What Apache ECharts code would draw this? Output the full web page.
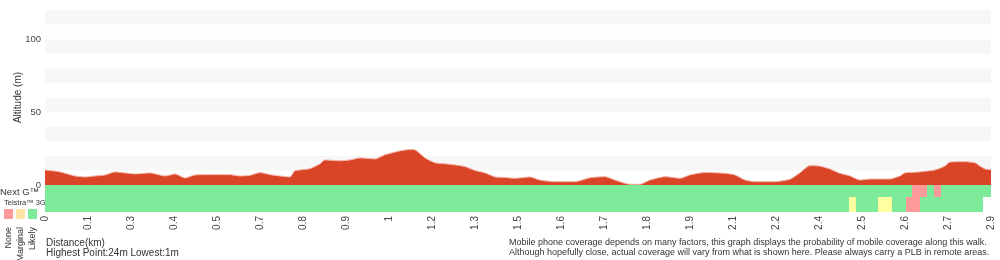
<!DOCTYPE html>
<html><head><meta charset="utf-8">
<script src="https://cdn.jsdelivr.net/npm/echarts@6/dist/echarts.min.js"></script>
<style>html,body{margin:0;padding:0;background:#fff}#c{width:1000px;height:260px}</style>
</head><body><div id="c"></div>
<script>
// Elevation profile (distance in km, altitude in m)
const distanceKm = [0, 0.046, 0.092, 0.123, 0.153, 0.184, 0.215, 0.245, 0.276, 0.322, 0.368, 0.399, 0.429, 0.460, 0.506, 0.567, 0.598, 0.628, 0.659, 0.690, 0.720, 0.751, 0.766, 0.812, 0.843, 0.858, 0.904, 0.935, 0.966, 1.012, 1.042, 1.088, 1.119, 1.134, 1.165, 1.196, 1.226, 1.257, 1.288, 1.318, 1.349, 1.380, 1.410, 1.441, 1.487, 1.517, 1.563, 1.625, 1.671, 1.717, 1.747, 1.793, 1.824, 1.855, 1.901, 1.947, 1.977, 2.024, 2.085, 2.115, 2.146, 2.177, 2.238, 2.284, 2.314, 2.345, 2.376, 2.406, 2.437, 2.468, 2.498, 2.529, 2.590, 2.621, 2.636, 2.682, 2.728, 2.759, 2.774, 2.820, 2.851, 2.866, 2.882, 2.900];
const altitudeM  = [10.3, 9.0, 6.2, 5.5, 6.2, 6.9, 9.0, 8.3, 7.6, 8.3, 6.2, 7.6, 4.8, 6.9, 7.1, 7.1, 6.2, 6.6, 8.5, 7.1, 6.2, 5.5, 9.7, 11.2, 14.5, 17.2, 16.6, 17.2, 18.6, 17.9, 20.7, 23.4, 24.3, 24.1, 18.6, 15.2, 14.5, 13.8, 12.6, 10.0, 8.3, 5.5, 5.2, 4.6, 5.5, 3.4, 2.3, 2.3, 5.0, 5.7, 3.4, 0.5, 0.5, 3.4, 5.7, 4.6, 6.9, 8.6, 8.0, 6.9, 3.4, 2.3, 2.3, 4.0, 8.3, 13.3, 12.9, 11.0, 8.0, 6.2, 3.4, 4.1, 4.1, 6.2, 8.3, 9.0, 10.3, 13.0, 15.7, 16.0, 15.2, 13.0, 11.0, 10.5];

const xTickLabels = ['0','0.1','0.3','0.4','0.5','0.7','0.8','0.9','1','1.2','1.3','1.5','1.6','1.7','1.8','1.9','2.1','2.2','2.4','2.5','2.6','2.7','2.9'];
const yTickLabels = [0, 50, 100];
const totalKm = 2.9;

// Coverage segments: [startKm, endKm, level]  level: 0 None, 1 Marginal, 2 Likely
const nextGCoverage = [[0, 2.657, 2], [2.657, 2.703, 0], [2.703, 2.725, 2], [2.725, 2.747, 0], [2.747, 2.9, 2]];
const telstra3GCoverage = [[0, 2.465, 2], [2.465, 2.486, 1], [2.486, 2.554, 2], [2.554, 2.596, 1], [2.596, 2.639, 2], [2.639, 2.682, 0], [2.682, 2.876, 2]];
const coverageLevels = ['None', 'Marginal', 'Likely'];

const levelColors = ['#ff9a9a', '#ffffa0', '#7deb99'];
const legendColors = ['#ff9a9a', '#ffe4a6', '#7deb99'];
const FONT = '"Liberation Sans", Arial, Helvetica, sans-serif';

const elevData = distanceKm.map((d, i) => [d, altitudeM[i]]);
const covData = [];
nextGCoverage.forEach(s => covData.push([s[0], s[1], 0, s[2]]));
telstra3GCoverage.forEach(s => covData.push([s[0], s[1], 1, s[2]]));
const step = totalKm / (xTickLabels.length - 1);

const chart = echarts.init(document.getElementById('c'), null, {renderer: 'canvas'});
const graphics = [
  {type: 'text', left: 0, top: 187, style: {text: 'Next G\u2122', font: '9.5px ' + FONT, fill: '#333'}},
  {type: 'text', left: 4, top: 199, style: {text: 'Telstra\u2122 3G', font: '7.5px ' + FONT, fill: '#333'}}
];
coverageLevels.forEach((name, i) => {
  graphics.push({type: 'rect', shape: {x: 4 + i * 12, y: 209, width: 9, height: 10}, style: {fill: legendColors[i]}});
  graphics.push({type: 'text', x: 8.5 + i * 12, y: 227, rotation: Math.PI / 2,
    style: {text: name, font: '9px ' + FONT, fill: '#333', align: 'right', verticalAlign: 'middle'}});
});
graphics.push({type: 'text', left: 46, top: 238, style: {text: 'Distance(km)', font: '10px ' + FONT, fill: '#333'}});
graphics.push({type: 'text', left: 46, top: 248, style: {text: 'Highest Point:24m Lowest:1m', font: '10px ' + FONT, fill: '#333'}});
graphics.push({type: 'text', left: 509, top: 238, style: {text: 'Mobile phone coverage depends on many factors, this graph displays the probability of mobile coverage along this walk.', font: '9px ' + FONT, fill: '#333'}});
graphics.push({type: 'text', left: 509, top: 248, style: {text: 'Although hopefully close, actual coverage will vary from what is shown here. Please always carry a PLB in remote areas.', font: '9px ' + FONT, fill: '#333'}});

chart.setOption({
  animation: false,
  textStyle: {fontFamily: FONT},
  grid: [
    {left: 45, right: 9, top: 10, height: 175},
    {left: 45, right: 9, top: 185, height: 27}
  ],
  xAxis: [
    {gridIndex: 0, type: 'value', min: 0, max: totalKm, show: false},
    {gridIndex: 1, type: 'value', min: 0, max: totalKm, interval: step,
     axisLine: {show: false}, axisTick: {show: false}, splitLine: {show: false},
     axisLabel: {rotate: 90, margin: 4, fontSize: 10, color: '#444', showMinLabel: true, showMaxLabel: true,
       formatter: v => { const i = Math.round(v / step); return xTickLabels[i] !== undefined ? xTickLabels[i] : ''; }}}
  ],
  yAxis: [
    {gridIndex: 0, type: 'value', min: 0, max: 120, interval: 10,
     name: 'Altitude (m)', nameLocation: 'middle', nameGap: 22, nameMoveOverlap: false,
     nameTextStyle: {fontSize: 10, color: '#333'},
     axisLine: {show: false}, axisTick: {show: false}, splitLine: {show: false},
     splitArea: {show: true, areaStyle: {color: ['#ffffff', '#f7f7f7']}},
     axisLabel: {fontSize: 9.5, color: '#444', margin: 4,
       formatter: v => yTickLabels.indexOf(v) >= 0 ? String(v) : ''}},
    {gridIndex: 1, type: 'value', min: 0, max: 1, show: false}
  ],
  series: [
    {type: 'line', xAxisIndex: 0, yAxisIndex: 0, data: elevData, smooth: 0.2, symbol: 'none',
     lineStyle: {color: '#f2b3a6', width: 1}, areaStyle: {color: '#db4527', opacity: 1}},
    {type: 'custom', xAxisIndex: 1, yAxisIndex: 1, data: covData, encode: {x: [0, 1]},
     renderItem: (params, api) => {
       const s = api.value(0), e = api.value(1), row = api.value(2), lvl = api.value(3);
       const band = row === 0 ? [0.544, 1] : [0, 0.544];
       const p0 = api.coord([s, band[1]]);
       const p1 = api.coord([e, band[0]]);
       const x0 = Math.round(p0[0]), x1 = Math.round(p1[0]);
       const y0 = Math.round(p0[1]), y1 = Math.round(p1[1]);
       return {type: 'rect', shape: {x: x0, y: y0, width: x1 - x0, height: y1 - y0}, style: {fill: levelColors[lvl]}};
     }}
  ],
  graphic: graphics
});
</script></body></html>
